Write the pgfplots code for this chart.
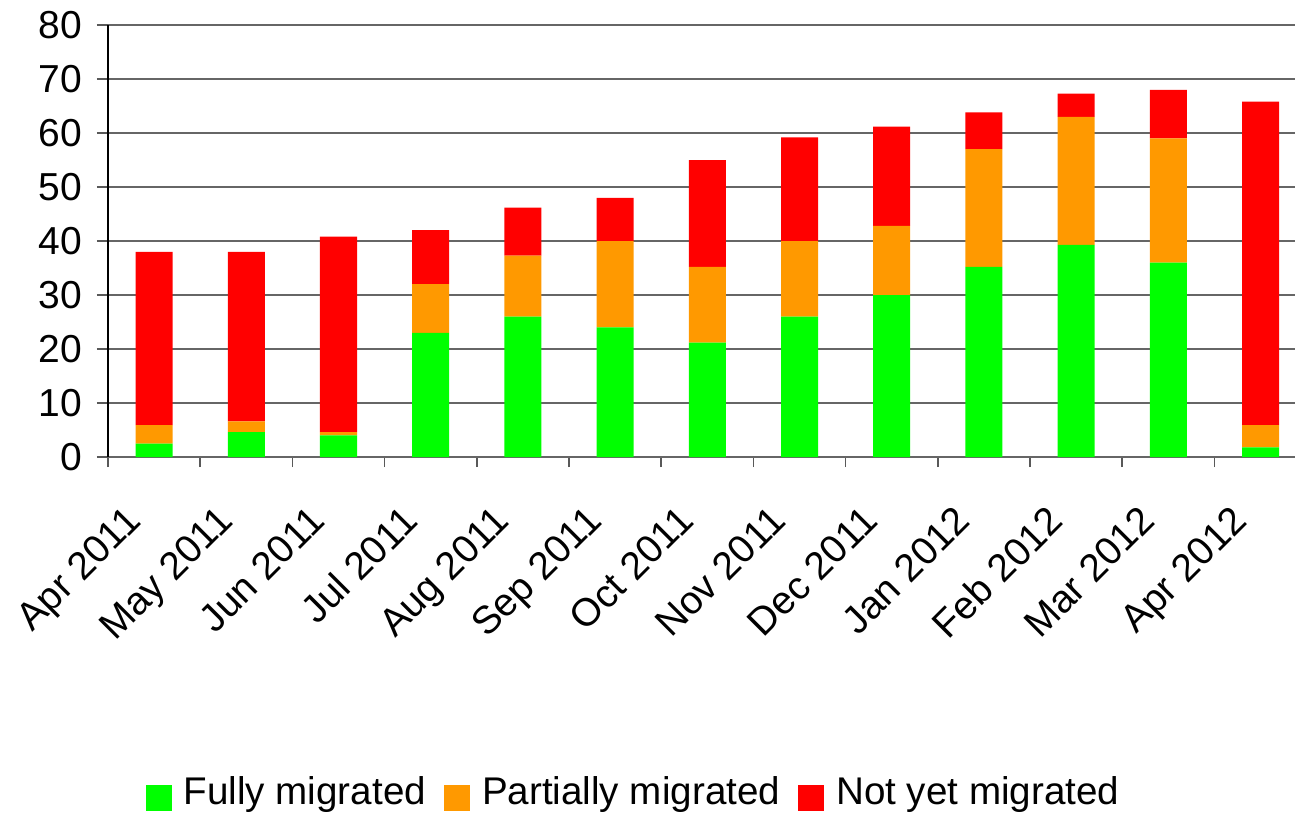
\documentclass[border=0pt]{standalone}
\usepackage{pgfplots}
\pgfplotsset{compat=1.18}
\usepackage{fontspec}
\setmainfont{Liberation Sans}
\definecolor{cgreen}{HTML}{00FF00}
\definecolor{corange}{HTML}{FF9900}
\definecolor{cred}{HTML}{FF0000}
\begin{document}
\begin{tikzpicture}
\path[use as bounding box] (-54pt,-178pt) rectangle (593.5pt,228.5pt);
\begin{axis}[
  at={(0,0)}, anchor=south west,
  scale only axis, width=599.3pt, height=216pt,
  ybar stacked, bar width=18.5pt,
  xmin=-0.5, xmax=12.5, ymin=0, ymax=80,
  ytick={0,10,...,80},
  xtick={0,...,12},
  xticklabels={Apr 2011,May 2011,Jun 2011,Jul 2011,Aug 2011,Sep 2011,Oct 2011,Nov 2011,Dec 2011,Jan 2012,Feb 2012,Mar 2012,Apr 2012},
  minor xtick={-0.5,0.5,...,12.5},
  major x tick style={draw=none},
  tick align=outside,
  major tick length=5.5pt, minor tick length=5pt,
  tick style={gray!70!black, line width=0.8pt},
  ymajorgrids, grid style={gray!80!black, line width=0.8pt},
  axis x line*=bottom, axis y line*=left,
  x axis line style={gray!80!black, line width=0.8pt},
  y axis line style={black, line width=0.6pt},
  axis line style={-},
  /pgf/number format/assume math mode=true,
  tick label style={font=\fontsize{19.5}{21}\selectfont},
  yticklabel style={xshift=-4pt},
  xticklabel style={xshift=-15.5pt, yshift=-17.5pt, rotate=45, anchor=north east, inner sep=0pt},
  legend style={at={(0.4376,-0.78)}, anchor=center, draw=none, legend columns=-1,
    font=\fontsize{19.3}{21}\selectfont, nodes={inner sep=0pt},
    /tikz/every odd column/.append style={column sep=6pt},
    /tikz/every even column/.append style={column sep=9pt}},
  legend image code/.code={\fill[#1] (0pt,-9.5pt) rectangle (13pt,3.5pt);},
]
\addplot[fill=cgreen, draw=none] coordinates {(0,2.5) (1,4.6) (2,4.0) (3,23) (4,26) (5,24) (6,21.2) (7,26) (8,30) (9,35.2) (10,39.3) (11,36) (12,1.8)};
\addplot[fill=corange, draw=none] coordinates {(0,3.4) (1,2.0) (2,0.6) (3,9) (4,11.3) (5,16) (6,14) (7,14) (8,12.8) (9,21.8) (10,23.7) (11,23) (12,4.1)};
\addplot[fill=cred, draw=none] coordinates {(0,32.1) (1,31.4) (2,36.2) (3,10) (4,8.9) (5,8) (6,19.8) (7,19.2) (8,18.4) (9,6.8) (10,4.3) (11,9) (12,59.9)};
\legend{Fully migrated, Partially migrated, Not yet migrated}
\end{axis}
\end{tikzpicture}
\end{document}
